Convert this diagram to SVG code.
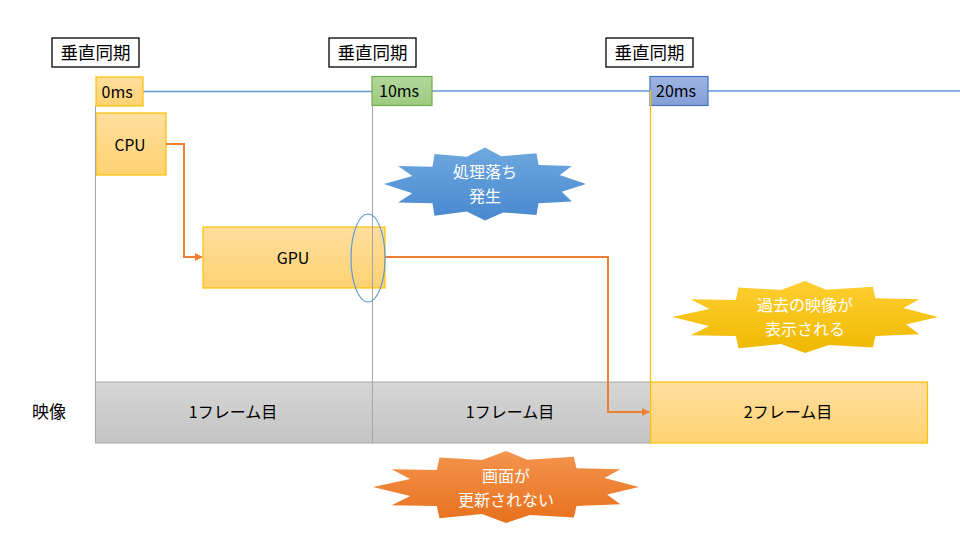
<svg xmlns="http://www.w3.org/2000/svg" xmlns:xlink="http://www.w3.org/1999/xlink" width="960" height="540" viewBox="0 0 960 540">
<style>
text{font-family:"Noto Sans CJK JP","Liberation Sans",sans-serif;fill:#000}
.lbl{font-size:17.5px}
.vs{fill:#fff;stroke:#000;stroke-width:1.3}
.orange{fill:url(#gOrange);stroke:#FFC000;stroke-width:1.2}
.gray{fill:url(#gGray);stroke:#A6A6A6;stroke-width:1}
.wt{fill:#fff;font-size:16px}
.conn{fill:none;stroke:#ED7D31;stroke-width:2}
.ms{font-size:16px}
.fr{font-size:16px}
</style>
<defs>
<linearGradient id="gOrange" x1="0" y1="0" x2="0" y2="1"><stop offset="0" stop-color="#FFDE9E"/><stop offset="1" stop-color="#FFD271"/></linearGradient>
<linearGradient id="gGray" x1="0" y1="0" x2="0" y2="1"><stop offset="0" stop-color="#D6D6D6"/><stop offset="1" stop-color="#C4C4C4"/></linearGradient>
<linearGradient id="gGreen" x1="0" y1="0" x2="0" y2="1"><stop offset="0" stop-color="#B3D79C"/><stop offset="1" stop-color="#9DCB80"/></linearGradient>
<linearGradient id="gBlueBox" x1="0" y1="0" x2="0" y2="1"><stop offset="0" stop-color="#9DB5E2"/><stop offset="1" stop-color="#849FD6"/></linearGradient>
<linearGradient id="gBurstBlue" x1="0" y1="0" x2="0" y2="1"><stop offset="0" stop-color="#6EA8DF"/><stop offset="1" stop-color="#4888CF"/></linearGradient>
<linearGradient id="gBurstYellow" x1="0" y1="0" x2="0" y2="1"><stop offset="0" stop-color="#FFCF32"/><stop offset="1" stop-color="#EFB800"/></linearGradient>
<linearGradient id="gBurstOrange" x1="0" y1="0" x2="0" y2="1"><stop offset="0" stop-color="#F4944E"/><stop offset="1" stop-color="#E8701C"/></linearGradient>
<path id="burst" d="M0,-100 L16,-76 L51,-84 L53,-52 L86,-49 L74,-25 L100,0 L76,21 L86,48 L53,53 L51,85 L18,78 L0,100 L-18,75 L-50,87 L-52,53 L-86,51 L-72,25 L-100,0 L-72,-22 L-86,-49 L-52,-47 L-50,-82 L-18,-75 Z"/>
<marker id="arr" viewBox="0 0 10 10" refX="9" refY="5" markerWidth="4" markerHeight="4" orient="auto" markerUnits="strokeWidth"><path d="M0,0 L10,5 L0,10 Z" fill="#ED7D31"/></marker>
</defs>
<rect width="960" height="540" fill="#fff"/>

<g id="timeline">
<line x1="143" y1="91.5" x2="372" y2="91.5" stroke="#5B9BD5" stroke-width="1.3"/>
<line x1="432" y1="91" x2="650" y2="91" stroke="#5B9BD5" stroke-width="1.3"/>
<line x1="708" y1="91" x2="960" y2="91" stroke="#5B9BD5" stroke-width="1.3"/>
</g>

<g id="vsync1"><rect class="vs" x="52" y="38" width="87" height="29"/><text class="lbl" x="95.5" y="59" text-anchor="middle">垂直同期</text></g>
<g id="vsync2"><rect class="vs" x="329" y="38" width="87" height="29"/><text class="lbl" x="372.5" y="59" text-anchor="middle">垂直同期</text></g>
<g id="vsync3"><rect class="vs" x="606" y="38" width="87" height="29"/><text class="lbl" x="649.5" y="59" text-anchor="middle">垂直同期</text></g>

<g id="t0"><rect class="orange" x="96" y="77" width="47" height="29"/><text class="ms" x="101.5" y="97.5">0ms</text></g>
<g id="t10"><rect x="372" y="76.5" width="60" height="29" fill="url(#gGreen)" stroke="#70AD47" stroke-width="1.2"/><text class="ms" x="379" y="97">10ms</text></g>
<g id="t20"><rect x="650" y="76.5" width="58" height="29" fill="url(#gBlueBox)" stroke="#4472C4" stroke-width="1.2"/><text class="ms" x="656" y="97">20ms</text></g>

<g id="cpu"><rect class="orange" x="96" y="113" width="70" height="62"/><text x="130" y="151" font-size="15.5" text-anchor="middle">CPU</text></g>
<g id="gpu"><rect class="orange" x="203" y="227" width="182" height="61"/><text x="293" y="264" font-size="16" text-anchor="middle">GPU</text></g>

<g id="frame1a"><rect class="gray" x="95.5" y="382" width="277" height="61"/><text class="fr" x="233" y="418" text-anchor="middle">1フレーム目</text></g>
<g id="frame1b"><rect class="gray" x="372.5" y="382" width="278" height="61"/><text class="fr" x="510" y="418" text-anchor="middle">1フレーム目</text></g>
<g id="frame2"><rect class="orange" x="650.5" y="382" width="277" height="61"/><text class="fr" x="788" y="418" text-anchor="middle">2フレーム目</text></g>

<g id="vlines">
<line x1="95.5" y1="106" x2="95.5" y2="382" stroke="#A6A6A6" stroke-width="1"/>
<line x1="372.5" y1="105.5" x2="372.5" y2="443" stroke="#A6A6A6" stroke-width="1"/>
<line x1="650.5" y1="90" x2="650.5" y2="382" stroke="#FFC000" stroke-width="1.3"/>
</g>

<g id="label-video"><text x="49" y="418" font-size="17" text-anchor="middle">映像</text></g>

<g id="connectors">
<polyline class="conn" points="166,144 184,144 184,257 202,257" marker-end="url(#arr)"/>
<polyline class="conn" points="385,257 608,257 608,412 649,412" marker-end="url(#arr)"/>
</g>

<g id="highlight"><ellipse cx="368" cy="258" rx="17" ry="44" fill="none" stroke="#5B9BD5" stroke-width="1.2"/></g>

<g id="burst-blue">
<use xlink:href="#burst" href="#burst" transform="translate(485,184) scale(1.01,0.365)" fill="url(#gBurstBlue)"/>
<text class="wt" x="485" y="178" text-anchor="middle">処理落ち</text>
<text class="wt" x="485" y="202" text-anchor="middle">発生</text>
</g>
<g id="burst-yellow">
<use xlink:href="#burst" href="#burst" transform="translate(805,317) scale(1.33,0.36)" fill="url(#gBurstYellow)"/>
<text class="wt" x="805" y="311" text-anchor="middle">過去の映像が</text>
<text class="wt" x="805" y="335" text-anchor="middle">表示される</text>
</g>
<g id="burst-orange">
<use xlink:href="#burst" href="#burst" transform="translate(506,487) scale(1.33,0.36)" fill="url(#gBurstOrange)"/>
<text class="wt" x="506" y="482" text-anchor="middle">画面が</text>
<text class="wt" x="506" y="506" text-anchor="middle">更新されない</text>
</g>
</svg>
